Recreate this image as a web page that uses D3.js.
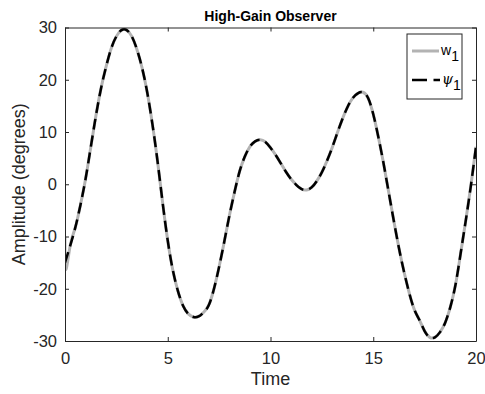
<!DOCTYPE html>
<html>
<head>
<meta charset="utf-8">
<script src="https://cdn.jsdelivr.net/npm/d3@7"></script>
<style>
  body { margin: 0; background: #fff; }
  svg { font-family: "Liberation Sans", Arial, Helvetica, sans-serif; }
</style>
</head>
<body>
<svg id="chart" width="485" height="394"></svg>
<script>
// samples every 0.25 time units
const timeStep = 0.25;
// psi_1 (observer estimate, black dashed), t = 0 ... 20
const psi1 = [
  -15, -11.8, -8.3, -4.0, 1.0, 7.0, 13.0, 18.3, 22.5, 26.0, 28.3, 29.5, 29.5, 28.3, 25.8, 22.3,
  17.6, 11.6, 4.5, -3.5, -10.8, -16.5, -20.5, -23.3, -24.8, -25.4, -25.3, -24.5, -23.1, -20.0, -15.8, -11.0,
  -6.0, -1.5, 2.5, 5.3, 7.2, 8.2, 8.5, 8.1, 7.0, 5.6, 4.0, 2.4, 1.0, -0.1, -0.9, -1.1,
  -0.6, 0.6, 2.3, 4.5, 7.0, 9.8, 12.5, 14.8, 16.5, 17.4, 17.6, 16.5, 13.4, 9.0, 4.0, -1.5,
  -7.0, -12.2, -16.8, -20.8, -24.0, -26.0, -28.1, -29.3, -29.3, -28.3, -26.5, -23.5, -19.3, -13.3, -7.0, -0.3,
  7.2
];
// w_1 differs only at the very start, then follows psi_1
const w1StartTime = [0, 0.04];
const w1StartVal = [-10, -16.3];

const xTicks = [0, 5, 10, 15, 20];
const yTicks = [-30, -20, -10, 0, 10, 20, 30];

const margin = {left: 65, right: 9, top: 27.5, bottom: 53};
const W = 485, H = 394;
const svg = d3.select("#chart");

const x = d3.scaleLinear().domain([0, 20]).range([margin.left, W - margin.right]);
const y = d3.scaleLinear().domain([-30, 30]).range([H - margin.bottom, margin.top]);

const axisColor = "#262626";

// data as point lists
let psiData = psi1.map((v, i) => ({t: i * timeStep, v: v}));
let wData = w1StartTime.map((t, i) => ({t: t, v: w1StartVal[i]}))
  .concat(psiData.slice(1));

const line = d3.line()
  .x(d => x(d.t))
  .y(d => y(d.v))
  .curve(d3.curveNatural);

svg.append("defs").append("clipPath").attr("id", "clip")
  .append("rect")
  .attr("x", margin.left).attr("y", margin.top)
  .attr("width", W - margin.left - margin.right)
  .attr("height", H - margin.top - margin.bottom);

let plot = svg.append("g").attr("clip-path", "url(#clip)");

plot.append("path")
  .datum(wData)
  .attr("d", line)
  .attr("fill", "none")
  .attr("stroke", "#b3b3b3")
  .attr("stroke-width", 3);

plot.append("path")
  .datum(psiData)
  .attr("d", line)
  .attr("fill", "none")
  .attr("stroke", "#000")
  .attr("stroke-width", 2.5)
  .attr("stroke-dasharray", "11,6");

// axes, MATLAB-like box with inward ticks
function styleAxis(g) {
  g.selectAll("path.domain").attr("stroke", axisColor).attr("stroke-width", 1);
  g.selectAll(".tick line").attr("stroke", axisColor);
  g.selectAll(".tick text").attr("fill", "#262626").style("font-size", "16.5px");
}

const plain = d => String(d);

svg.append("g")
  .attr("transform", `translate(0,${H - margin.bottom})`)
  .call(d3.axisBottom(x).tickValues(xTicks).tickFormat(plain).tickSizeInner(-4).tickSizeOuter(0).tickPadding(11))
  .call(styleAxis);

svg.append("g")
  .attr("transform", `translate(0,${margin.top})`)
  .call(d3.axisTop(x).tickValues(xTicks).tickSizeInner(-4).tickSizeOuter(0).tickFormat(""))
  .call(styleAxis);

svg.append("g")
  .attr("transform", `translate(${margin.left},0)`)
  .call(d3.axisLeft(y).tickValues(yTicks).tickFormat(plain).tickSizeInner(-4).tickSizeOuter(0).tickPadding(8))
  .call(styleAxis);

svg.append("g")
  .attr("transform", `translate(${W - margin.right},0)`)
  .call(d3.axisRight(y).tickValues(yTicks).tickSizeInner(-4).tickSizeOuter(0).tickFormat(""))
  .call(styleAxis);

// labels
svg.append("text")
  .attr("x", (margin.left + W - margin.right) / 2)
  .attr("y", 21)
  .attr("text-anchor", "middle")
  .style("font-size", "14px")
  .style("font-weight", "bold")
  .attr("fill", "#000")
  .text("High-Gain Observer");

svg.append("text")
  .attr("x", (margin.left + W - margin.right) / 2)
  .attr("y", 385)
  .attr("text-anchor", "middle")
  .style("font-size", "18px")
  .attr("fill", "#262626")
  .text("Time");

svg.append("text")
  .attr("transform", `translate(25,${(margin.top + H - margin.bottom) / 2}) rotate(-90)`)
  .attr("text-anchor", "middle")
  .style("font-size", "18px")
  .attr("fill", "#262626")
  .text("Amplitude (degrees)");

// legend
let legend = svg.append("g");
legend.append("rect")
  .attr("x", 407).attr("y", 34)
  .attr("width", 55).attr("height", 65)
  .attr("fill", "#fff")
  .attr("stroke", axisColor)
  .attr("stroke-width", 1);

legend.append("line")
  .attr("x1", 412).attr("x2", 439).attr("y1", 51).attr("y2", 51)
  .attr("stroke", "#b3b3b3").attr("stroke-width", 3);
legend.append("line")
  .attr("x1", 412).attr("x2", 440).attr("y1", 80).attr("y2", 80)
  .attr("stroke", "#000").attr("stroke-width", 2.5)
  .attr("stroke-dasharray", "15,6.5");

let t1 = legend.append("text")
  .attr("x", 441).attr("y", 55)
  .style("font-size", "14px")
  .attr("fill", "#000");
t1.append("tspan").text("w");
t1.append("tspan").attr("dy", 6).text("1");

let t2 = legend.append("text")
  .attr("x", 442).attr("y", 84)
  .style("font-size", "14px")
  .attr("fill", "#000");
t2.append("tspan").style("font-style", "italic").style("font-family", "'DejaVu Serif', serif").text("ψ");
t2.append("tspan").attr("dy", 6).text("1");
</script>
</body>
</html>
